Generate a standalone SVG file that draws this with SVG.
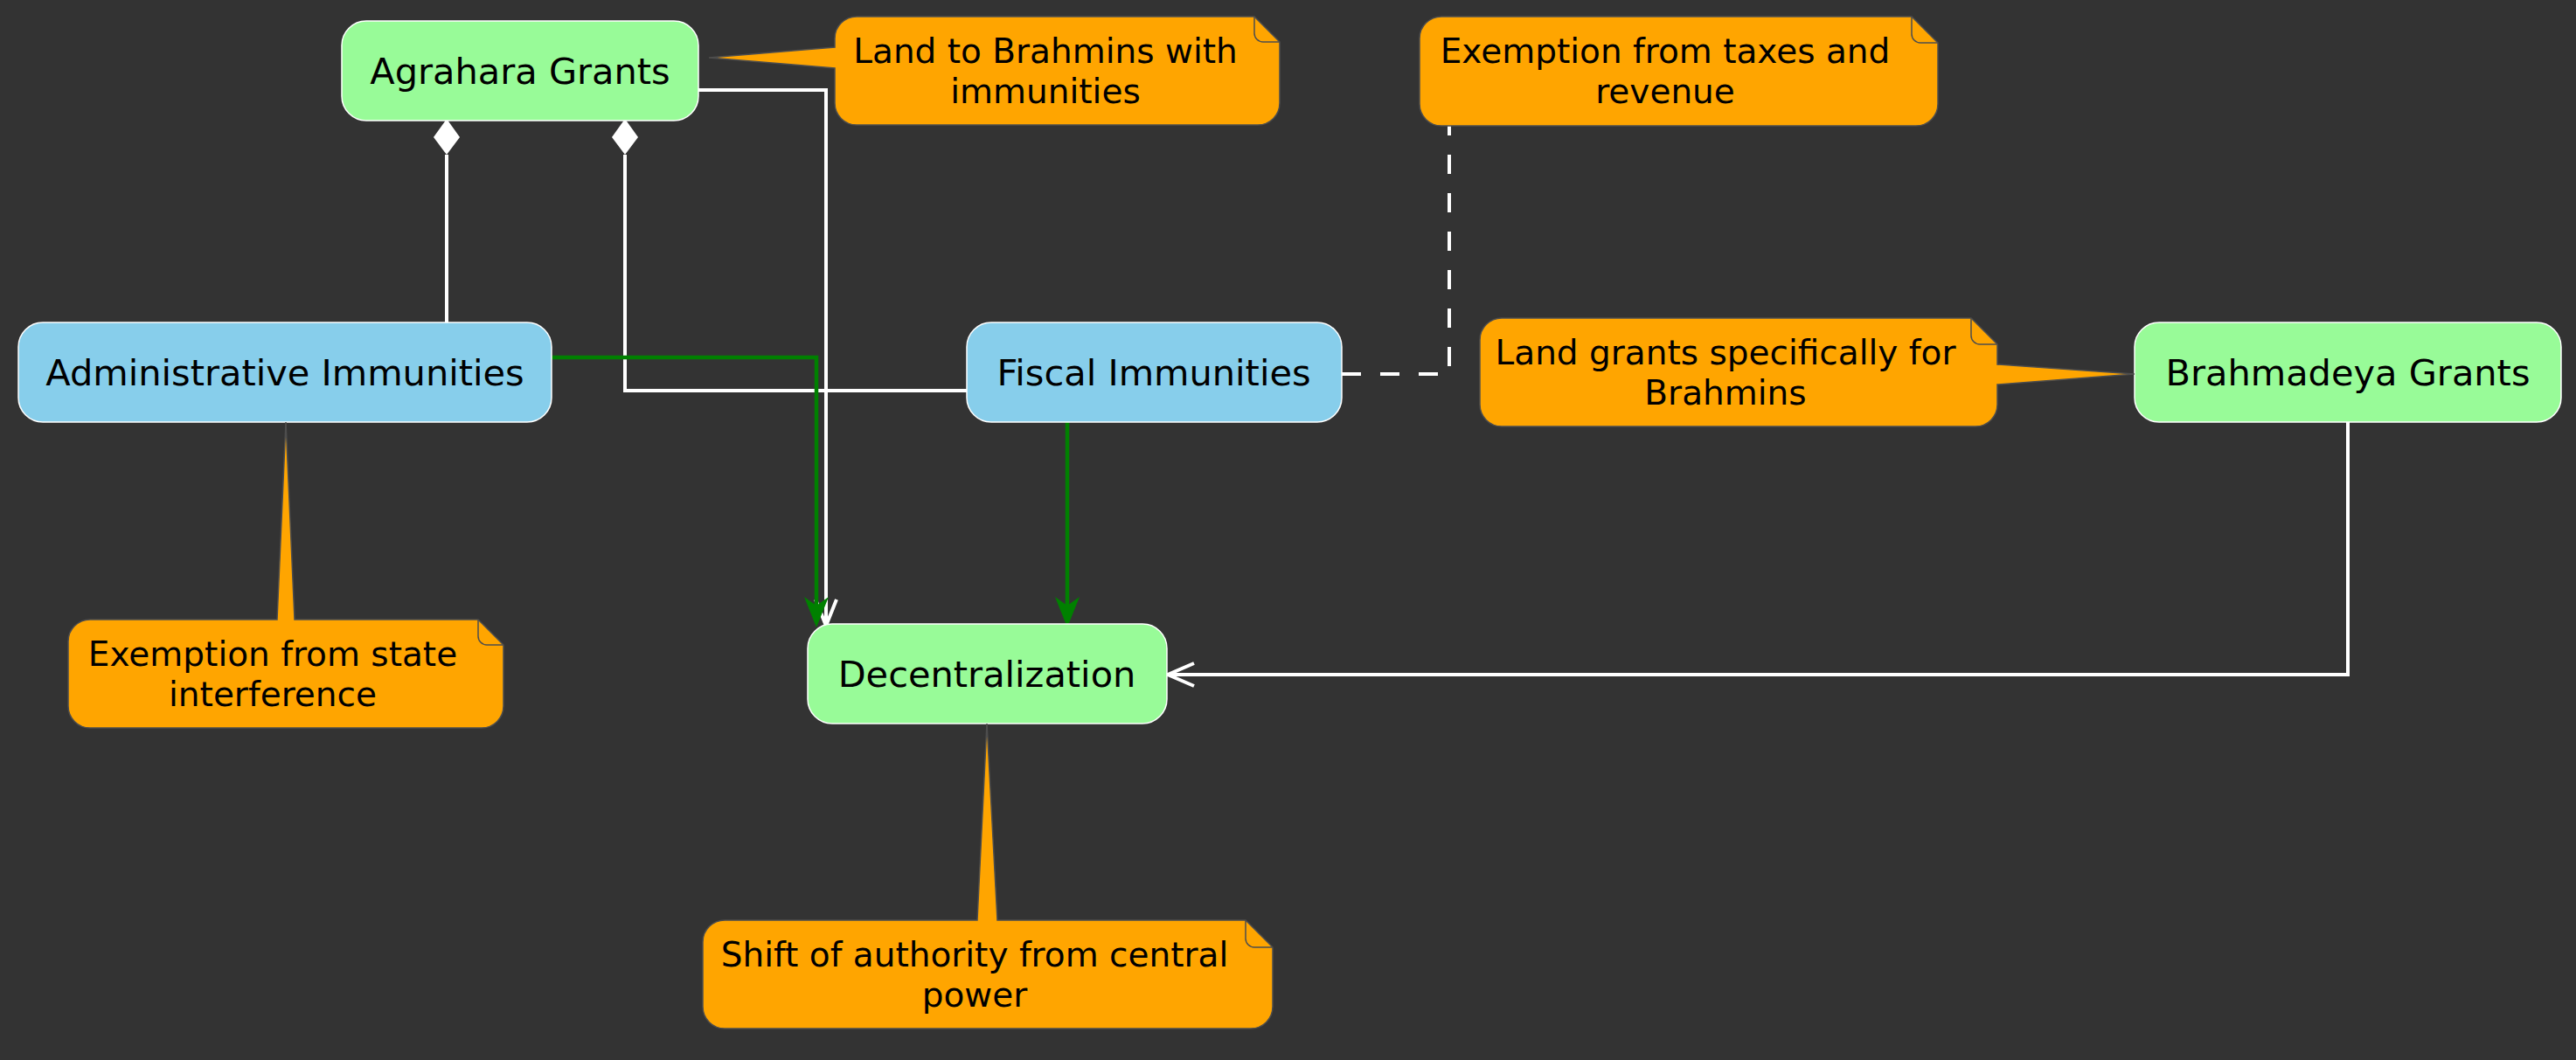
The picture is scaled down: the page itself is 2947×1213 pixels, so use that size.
<svg xmlns="http://www.w3.org/2000/svg" width="2947" height="1213" viewBox="0 0 2947 1213">
<style>
.bg{fill:#333333}
.green{fill:#98FB98;stroke:#FFFFFF;stroke-width:1.5}
.blue{fill:#87CEEB;stroke:#FFFFFF;stroke-width:1.5}
.note{fill:#FFA500;stroke:#4d4d4d;stroke-width:1.5}
.fold{fill:none;stroke:#4d4d4d;stroke-width:1.5}
.nt{font-family:"DejaVu Sans",Verdana,sans-serif;font-size:41.5px;fill:#000000;text-anchor:middle}
.tt{font-family:"DejaVu Sans",Verdana,sans-serif;font-size:39px;fill:#000000;text-anchor:middle}
.w{fill:none;stroke:#FFFFFF;stroke-width:4}
.g{fill:none;stroke:#008000;stroke-width:4.5}
.dash{fill:none;stroke:#FFFFFF;stroke-width:4;stroke-dasharray:22 22}
</style>
<rect class="bg" x="0" y="0" width="2947" height="1213"/>

<g id="connectors">
  <!-- Agrahara -> Administrative (composition) -->
  <line class="w" x1="511" y1="177" x2="511" y2="369"/>
  <polygon fill="#FFFFFF" points="511,136 526,157 511,177 496,157"/>
  <!-- Agrahara -> Fiscal (composition) -->
  <polyline class="w" points="715,177 715,447 1106,447"/>
  <polygon fill="#FFFFFF" points="715,136 730,157 715,177 700,157"/>
  <!-- Agrahara -> Decentralization -->
  <polyline class="w" points="799,103 945,103 945,714"/>
  <polyline class="w" points="933,686 945,716 957,686" stroke-width="5"/>
  <!-- Brahmadeya -> Decentralization -->
  <polyline class="w" points="2686,483 2686,772 1338,772"/>
  <polyline class="w" points="1366,759 1336,772 1366,785" stroke-width="5"/>
  <!-- Fiscal .. note -->
  <polyline class="dash" points="1535,428 1658,428 1658,144"/>
  <!-- Administrative -> Decentralization (green) -->
  <polyline class="g" points="631,409 934,409 934,700"/>
  <polygon fill="#008000" points="934,718 920,683 934,693 948,683"/>
  <!-- Fiscal -> Decentralization (green) -->
  <line class="g" x1="1221" y1="483" x2="1221" y2="700"/>
  <polygon fill="#008000" points="1221,718 1207,683 1221,693 1235,683"/>
</g>

<g id="agrahara">
  <rect class="green" x="391" y="24" width="408" height="114" rx="28" ry="28"/>
  <text class="nt" x="595" y="96">Agrahara Grants</text>
</g>
<g id="administrative">
  <rect class="blue" x="21" y="369" width="610" height="114" rx="28" ry="28"/>
  <text class="nt" x="326" y="441">Administrative Immunities</text>
</g>
<g id="fiscal">
  <rect class="blue" x="1106" y="369" width="429" height="114" rx="28" ry="28"/>
  <text class="nt" x="1320" y="441">Fiscal Immunities</text>
</g>
<g id="brahmadeya">
  <rect class="green" x="2442" y="369" width="488" height="114" rx="28" ry="28"/>
  <text class="nt" x="2686" y="441">Brahmadeya Grants</text>
</g>
<g id="decentralization">
  <rect class="green" x="924" y="714" width="411" height="114" rx="28" ry="28"/>
  <text class="nt" x="1129" y="786">Decentralization</text>
</g>

<g id="note-agrahara">
  <path class="note" d="M980,19 L1435,19 L1464,48 L1464,118 A25,25 0 0 1 1439,143 L980,143 A25,25 0 0 1 955,118 L955,78 L811,66 L955,54 L955,44 A25,25 0 0 1 980,19 Z"/>
  <path class="fold" d="M1435,19 L1435,38 A10,10 0 0 0 1445,48 L1464,48"/>
  <text class="tt" x="1196" y="72">Land to Brahmins with</text>
  <text class="tt" x="1196" y="118">immunities</text>
</g>
<g id="note-fiscal">
  <path class="note" d="M1649,19 L2187,19 L2217,49 L2217,119 A25,25 0 0 1 2192,144 L1649,144 A25,25 0 0 1 1624,119 L1624,44 A25,25 0 0 1 1649,19 Z"/>
  <path class="fold" d="M2187,19 L2187,39 A10,10 0 0 0 2197,49 L2217,49"/>
  <text class="tt" x="1905" y="72">Exemption from taxes and</text>
  <text class="tt" x="1905" y="118">revenue</text>
</g>
<g id="note-brahmadeya">
  <path class="note" d="M1718,364 L2255,364 L2285,394 L2285,417 L2442,428 L2285,440 L2285,463 A25,25 0 0 1 2260,488 L1718,488 A25,25 0 0 1 1693,463 L1693,389 A25,25 0 0 1 1718,364 Z"/>
  <path class="fold" d="M2255,364 L2255,384 A10,10 0 0 0 2265,394 L2285,394"/>
  <text class="tt" x="1974" y="417">Land grants specifically for</text>
  <text class="tt" x="1974" y="463">Brahmins</text>
</g>
<g id="note-administrative">
  <path class="note" d="M103,709 L317,709 L327,483 L337,709 L547,709 L576,738 L576,808 A25,25 0 0 1 551,833 L103,833 A25,25 0 0 1 78,808 L78,734 A25,25 0 0 1 103,709 Z"/>
  <path class="fold" d="M547,709 L547,728 A10,10 0 0 0 557,738 L576,738"/>
  <text class="tt" x="312" y="762">Exemption from state</text>
  <text class="tt" x="312" y="808">interference</text>
</g>
<g id="note-decentralization">
  <path class="note" d="M829,1053 L1118,1053 L1129,828 L1141,1053 L1425,1053 L1456,1084 L1456,1152 A25,25 0 0 1 1431,1177 L829,1177 A25,25 0 0 1 804,1152 L804,1078 A25,25 0 0 1 829,1053 Z"/>
  <path class="fold" d="M1425,1053 L1425,1074 A10,10 0 0 0 1435,1084 L1456,1084"/>
  <text class="tt" x="1115" y="1106">Shift of authority from central</text>
  <text class="tt" x="1115" y="1152">power</text>
</g>
</svg>
